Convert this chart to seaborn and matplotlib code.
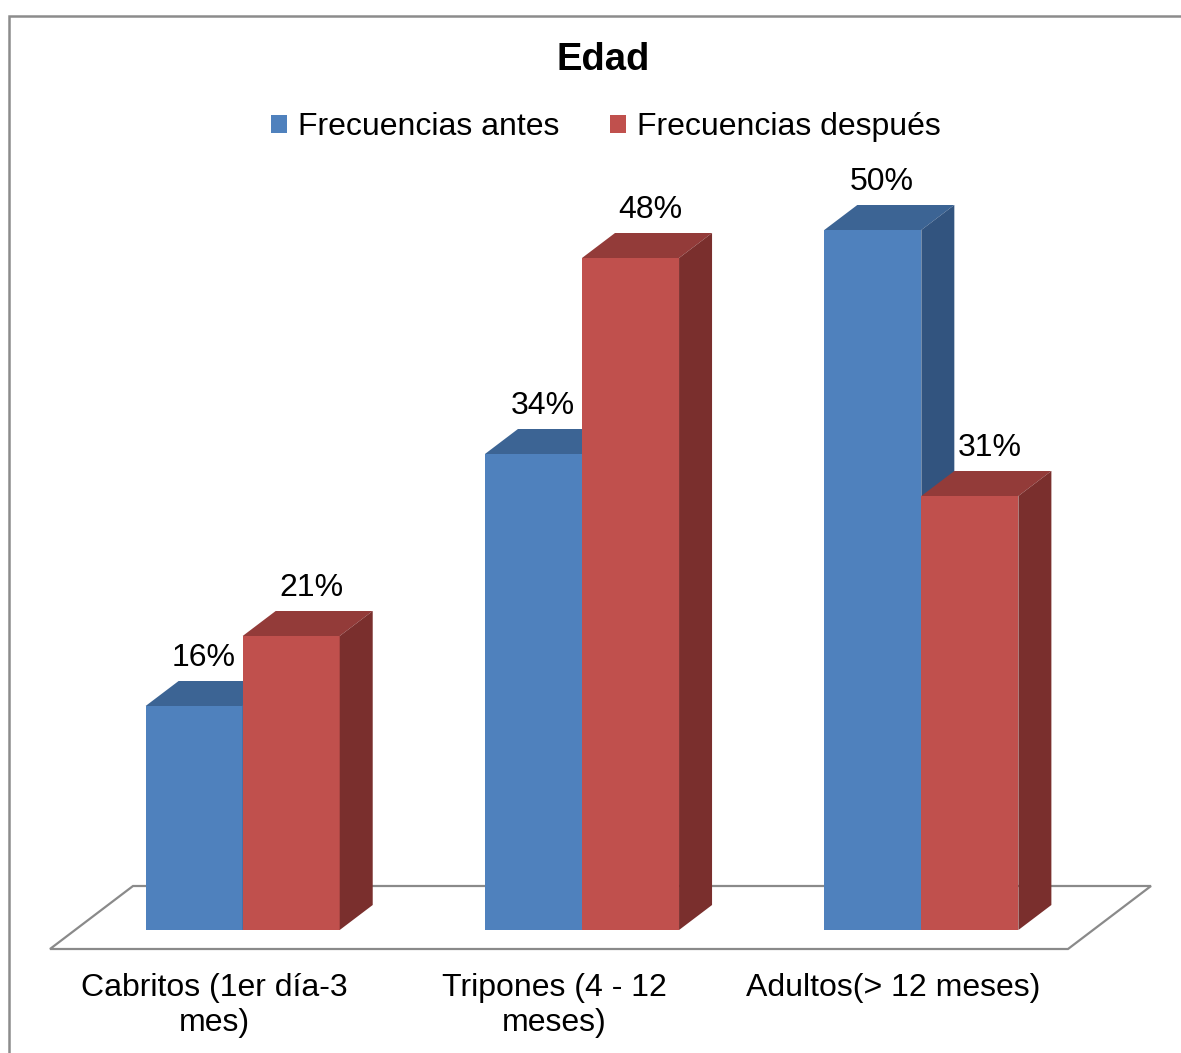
import matplotlib
matplotlib.use("Agg")
import numpy as np
import pandas as pd
import matplotlib.pyplot as plt
import matplotlib.transforms as mtransforms
from matplotlib.patches import Polygon, Rectangle
import seaborn as sns

# --- data -----------------------------------------------------------------
categorias = ["Cabritos (1er día-3\nmes)", "Tripones (4 - 12\nmeses)", "Adultos(> 12 meses)"]
series = ["Frecuencias antes", "Frecuencias después"]
antes = [16, 34, 50]
despues = [21, 48, 31]
titulo = "Edad"

df = pd.DataFrame({
    "categoria": categorias * 2,
    "serie": [series[0]] * len(categorias) + [series[1]] * len(categorias),
    "valor": antes + despues,
})

# --- style ----------------------------------------------------------------
sns.set_theme(style="white")
plt.rcParams["font.family"] = ["Liberation Sans", "DejaVu Sans"]
plt.rcParams["text.color"] = "black"
plt.rcParams["xtick.color"] = "black"
plt.rcParams["xtick.labelcolor"] = "black"

front = {series[0]: "#4F81BD", series[1]: "#C0504D"}
top_col = {series[0]: "#3C6494", series[1]: "#933B39"}
side_col = {series[0]: "#32547F", series[1]: "#7A2F2D"}

W, H, DPI = 1181, 1053, 100
fig = plt.figure(figsize=(W / DPI, H / DPI), dpi=DPI)
fig.patch.set_facecolor("white")

# plotting area: front plane of the bars
ax = fig.add_axes([73 / W, (H - 930) / H, 1018 / W, 700 / H])
sns.barplot(data=df, x="categoria", y="valor", hue="serie", palette=front,
            width=0.572, saturation=1, linewidth=0, ax=ax, legend=True)
ax.set_xlim(-0.5, 2.5)
ax.set_ylim(0, 50)
ax.set_facecolor("none")
for s in ax.spines.values():
    s.set_visible(False)
ax.set_yticks([])
ax.set_xlabel("")
ax.set_ylabel("")

# helpers to go between data and pixel space
to_px = ax.transData.transform
to_data = ax.transData.inverted().transform

# bar depth (pixels) and floor depth
DX, DY = 33, 25
FLOOR_FRONT = (-23, -19)
FLOOR_BACK = (60, 44)

# floor parallelogram
x0, x1 = ax.get_xlim()
p0 = to_px((x0, 0))
p1 = to_px((x1, 0))
floor_px = [
    (p0[0] + FLOOR_FRONT[0], p0[1] + FLOOR_FRONT[1]),
    (p1[0] + FLOOR_FRONT[0], p1[1] + FLOOR_FRONT[1]),
    (p1[0] + FLOOR_BACK[0], p1[1] + FLOOR_BACK[1]),
    (p0[0] + FLOOR_BACK[0], p0[1] + FLOOR_BACK[1]),
]
ax.add_patch(Polygon(to_data(floor_px), closed=True, facecolor="white",
                     edgecolor="#8A8A8A", linewidth=1.6, zorder=0.5, clip_on=False))

# extrude bars into 3-D boxes and add value labels
bars = [p for p in ax.patches if isinstance(p, Rectangle) and p.get_height() > 0]
n = len(categorias)
valores = antes + despues
for i, bar in enumerate(bars[:2 * n]):
    s_idx = i // n
    serie = series[s_idx]
    val = valores[i]
    bx, bw = bar.get_x(), bar.get_width()
    z = 2 + s_idx * 0.2
    bar.set_zorder(z)
    bar.set_clip_on(False)
    bar.set_edgecolor("none")
    br = to_px((bx + bw, 0))
    tl = to_px((bx, val))
    tr = to_px((bx + bw, val))
    top_px = [tl, tr, (tr[0] + DX, tr[1] + DY), (tl[0] + DX, tl[1] + DY)]
    side_px = [br, tr, (tr[0] + DX, tr[1] + DY), (br[0] + DX, br[1] + DY)]
    ax.add_patch(Polygon(to_data(top_px), closed=True, facecolor=top_col[serie],
                         edgecolor="none", zorder=z + 0.1, clip_on=False))
    ax.add_patch(Polygon(to_data(side_px), closed=True, facecolor=side_col[serie],
                         edgecolor="none", zorder=z + 0.1, clip_on=False))
    dx_lab = 9 if s_idx == 0 else 20
    ax.annotate(f"{val}%", xy=(bx + bw / 2, val), xytext=(dx_lab, 48),
                textcoords="offset pixels", ha="center", va="center",
                fontsize=23, color="black", zorder=5, annotation_clip=False)

# category labels below the floor
ax.tick_params(axis="x", length=0, pad=31, labelsize=23, labelcolor="black")
shift = mtransforms.ScaledTranslation(-28 / DPI, 0, fig.dpi_scale_trans)
for lbl in ax.get_xticklabels():
    lbl.set_transform(lbl.get_transform() + shift)
    lbl.set_linespacing(1.2)
    lbl.set_color("black")

# legend and title
sns.move_legend(ax, "center", bbox_to_anchor=(606 / W, 1 - 127 / H),
                bbox_transform=fig.transFigure, ncol=2, frameon=False, title=None,
                fontsize=23, handlelength=0.48, handleheight=0.48,
                handletextpad=0.35, columnspacing=1.6, labelcolor="black")
fig.text(603 / W, 1 - 60 / H, titulo, ha="center", va="center",
         fontsize=27.5, fontweight="bold", color="black")

# chart border
fig.patches.append(Rectangle((8.5 / W, -0.2), 2, 1.2 - 15.5 / H,
                             transform=fig.transFigure, fill=False,
                             edgecolor="#8C8C8C", linewidth=1.8))

fig.savefig("out.png", dpi=DPI, facecolor="white")
